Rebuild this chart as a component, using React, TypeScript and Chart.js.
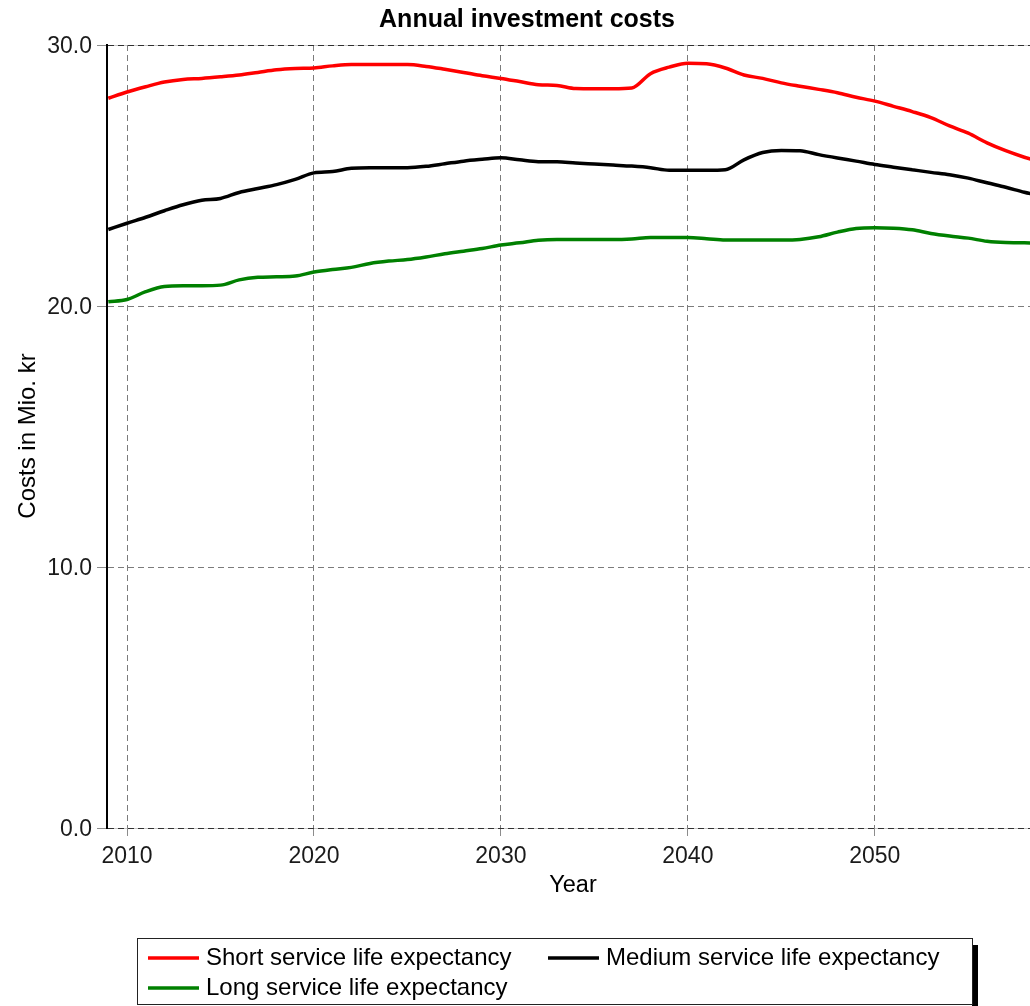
import React, { useEffect, useRef } from 'react';
import { Chart, registerables } from 'chart.js';

Chart.register(...registerables);

const chartTitle = 'Annual investment costs';
const xTitle = 'Year';
const yTitle = 'Costs in Mio. kr';

const years = [
  2009, 2010, 2011, 2012, 2013, 2014, 2015, 2016, 2017, 2018,
  2019, 2020, 2021, 2022, 2023, 2024, 2025, 2026, 2027, 2028,
  2029, 2030, 2031, 2032, 2033, 2034, 2035, 2036, 2037, 2038,
  2039, 2040, 2041, 2042, 2043, 2044, 2045, 2046, 2047, 2048,
  2049, 2050, 2051, 2052, 2053, 2054, 2055, 2056, 2057, 2058, 2059,
];

const shortLife = [
  27.96, 28.2, 28.4, 28.58, 28.68, 28.72, 28.78, 28.85, 28.95, 29.05,
  29.1, 29.12, 29.2, 29.25, 29.25, 29.25, 29.25, 29.18, 29.07, 28.95,
  28.82, 28.72, 28.6, 28.48, 28.45, 28.33, 28.32, 28.32, 28.35, 28.9,
  29.15, 29.3, 29.28, 29.12, 28.85, 28.72, 28.55, 28.42, 28.3, 28.17,
  28.0, 27.85, 27.65, 27.45, 27.22, 26.9, 26.62, 26.25, 25.95, 25.7, 25.5,
];

const mediumLife = [
  22.93, 23.17, 23.4, 23.65, 23.88, 24.05, 24.12, 24.35, 24.5, 24.65,
  24.85, 25.1, 25.15, 25.28, 25.3, 25.3, 25.3, 25.35, 25.45, 25.55,
  25.62, 25.68, 25.6, 25.53, 25.53, 25.48, 25.44, 25.4, 25.36, 25.3,
  25.2, 25.2, 25.2, 25.22, 25.6, 25.88, 25.96, 25.95, 25.8, 25.67,
  25.55, 25.42, 25.32, 25.22, 25.12, 25.03, 24.9, 24.72, 24.55, 24.36, 24.2,
];

const longLife = [
  20.16, 20.25, 20.55, 20.75, 20.78, 20.78, 20.8, 21.0, 21.1, 21.12,
  21.15, 21.3, 21.4, 21.48, 21.63, 21.72, 21.78, 21.88, 22.0, 22.1,
  22.2, 22.34, 22.42, 22.52, 22.55, 22.55, 22.55, 22.55, 22.57, 22.62,
  22.62, 22.62, 22.58, 22.53, 22.53, 22.53, 22.53, 22.55, 22.65, 22.83,
  22.97, 23.0, 22.98, 22.92, 22.78, 22.68, 22.6, 22.48, 22.43, 22.42, 22.4,
];

const seriesLabels = [
  'Short service life expectancy',
  'Medium service life expectancy',
  'Long service life expectancy',
];
const seriesColors = ['#ff0000', '#000000', '#008000'];

const xTickYears = [2010, 2020, 2030, 2040, 2050];
const yTickValues = [0, 10, 20, 30];

const FONT = '"Liberation Sans", Arial, sans-serif';

const decorPlugin = {
  id: 'decor',
  beforeDraw(chart: any) {
    const { ctx, chartArea: a } = chart;
    ctx.save();
    ctx.fillStyle = '#ffffff';
    ctx.fillRect(0, 0, chart.width, chart.height);
    ctx.strokeStyle = '#c8c8c8';
    ctx.lineWidth = 1;
    ctx.beginPath();
    ctx.moveTo(a.left, a.top + 0.5);
    ctx.lineTo(a.right, a.top + 0.5);
    ctx.moveTo(a.left, a.bottom + 0.5);
    ctx.lineTo(a.right, a.bottom + 0.5);
    ctx.stroke();
    ctx.restore();
  },
  afterDraw(chart: any) {
    const ctx = chart.ctx;
    ctx.save();
    ctx.fillStyle = '#000';
    ctx.textBaseline = 'middle';
    ctx.textAlign = 'center';
    ctx.font = `bold 25px ${FONT}`;
    ctx.fillText(chartTitle, 527, 20);
    ctx.font = `23.5px ${FONT}`;
    ctx.fillText(xTitle, 573, 886);
    ctx.save();
    ctx.translate(28, 436);
    ctx.rotate(-Math.PI / 2);
    ctx.font = `24px ${FONT}`;
    ctx.fillText(yTitle, 0, 0);
    ctx.restore();

    // legend box
    ctx.fillStyle = '#000';
    ctx.fillRect(972, 945, 6, 70);
    ctx.fillStyle = '#fff';
    ctx.fillRect(137, 938, 835, 66);
    ctx.strokeStyle = '#222';
    ctx.lineWidth = 1;
    ctx.strokeRect(137.5, 938.5, 835, 66);

    const items = [
      { x: 148, y: 958 },
      { x: 548, y: 958 },
      { x: 148, y: 988 },
    ];
    ctx.textAlign = 'left';
    ctx.font = `24px ${FONT}`;
    items.forEach((it, i) => {
      ctx.strokeStyle = seriesColors[i];
      ctx.lineWidth = 3.5;
      ctx.beginPath();
      ctx.moveTo(it.x, it.y);
      ctx.lineTo(it.x + 51, it.y);
      ctx.stroke();
      ctx.fillStyle = '#000';
      ctx.fillText(seriesLabels[i], it.x + 58, it.y);
    });
    ctx.restore();
  },
};

export default function App() {
  const ref = useRef<HTMLCanvasElement | null>(null);

  useEffect(() => {
    const canvas = ref.current;
    if (!canvas) return;
    const series = [shortLife, mediumLife, longLife];
    const chart = new Chart(canvas, {
      type: 'line',
      data: {
        datasets: series.map((vals, i) => ({
          label: seriesLabels[i],
          data: years.map((yr, j) => ({ x: yr, y: vals[j] })),
          borderColor: seriesColors[i],
          backgroundColor: seriesColors[i],
          borderWidth: 3.5,
          pointRadius: 0,
          cubicInterpolationMode: 'monotone' as const,
          fill: false,
        })),
      },
      options: {
        animation: false,
        responsive: false,
        devicePixelRatio: 1,
        layout: { padding: { left: 0, top: 45, right: 0, bottom: 0 } },
        plugins: {
          legend: { display: false },
          title: { display: false },
          tooltip: { enabled: false },
        },
        scales: {
          x: {
            type: 'linear',
            min: 2008.93,
            max: 2058.3,
            afterBuildTicks: (s: any) => {
              s.ticks = xTickYears.map((v) => ({ value: v }));
            },
            afterFit: (s: any) => {
              s.height = 178;
            },
            ticks: {
              autoSkip: false,
              maxRotation: 0,
              padding: 7,
              color: '#1a1a1a',
              font: { family: FONT, size: 23 },
              callback: (v: any) => String(v),
            },
            grid: {
              color: '#7c7c7c',
              lineWidth: 1,
              tickBorderDash: [],
              tickColor: '#8c8c8c',
              tickLength: 8,
            },
            border: { display: false, color: '#a0a0a0', width: 1, dash: [6, 4] },
          },
          y: {
            type: 'linear',
            min: 0,
            max: 30,
            afterBuildTicks: (s: any) => {
              s.ticks = yTickValues.map((v) => ({ value: v }));
            },
            afterFit: (s: any) => {
              s.width = 107;
            },
            ticks: {
              padding: 5,
              labelOffset: 2,
              color: '#1a1a1a',
              font: { family: FONT, size: 23 },
              callback: (v: any) => Number(v).toFixed(1),
            },
            grid: {
              color: (c: any) =>
                c.tick && (c.tick.value === 30 || c.tick.value === 0) ? '#303030' : '#7c7c7c',
              lineWidth: 1,
              tickBorderDash: [],
              tickColor: '#8c8c8c',
              tickLength: 10,
            },
            border: { display: true, color: '#000', width: 2, dash: [6, 4] },
          },
        },
      },
      plugins: [decorPlugin],
    });
    return () => chart.destroy();
  }, []);

  return (
    <div style={{ position: 'absolute', left: 0, top: 0, width: 1030, height: 1006 }}>
      <canvas ref={ref} width={1030} height={1006} style={{ display: 'block' }} />
    </div>
  );
}
